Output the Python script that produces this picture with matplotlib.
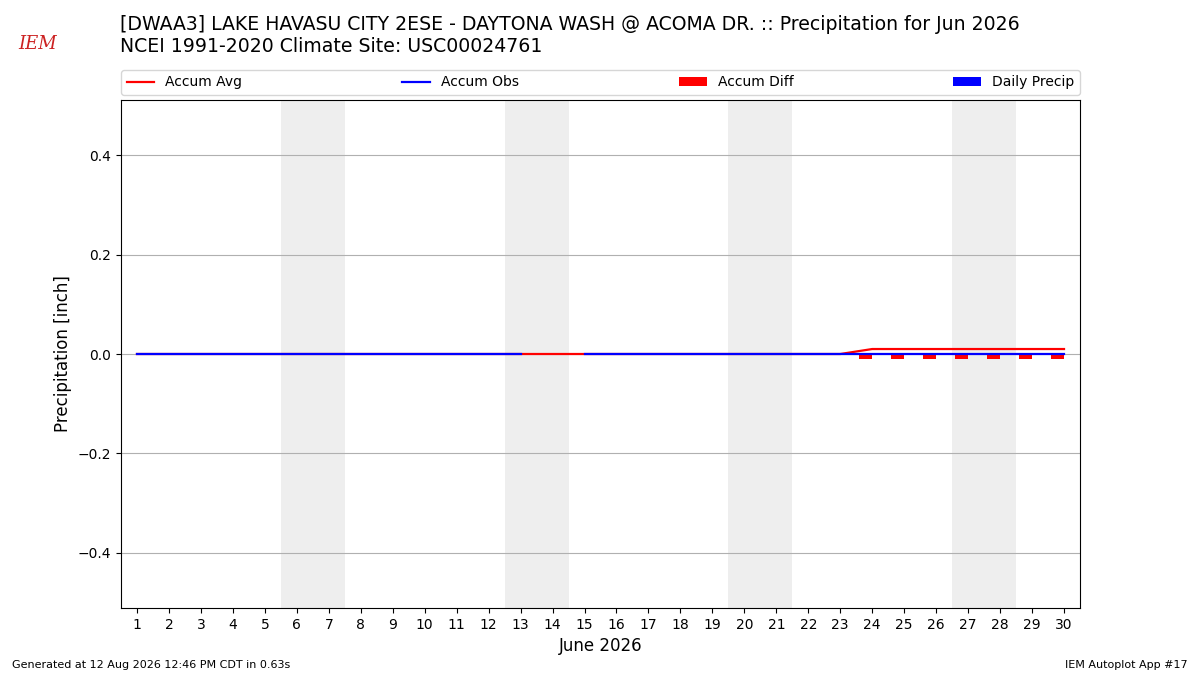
import numpy as np
import matplotlib
matplotlib.use("Agg")
import matplotlib.pyplot as plt

days = list(range(1, 31))
accum_avg = [0.0] * 23 + [0.01] * 7
accum_obs = [0.0] * 13 + [np.nan] + [0.0] * 16
accum_diff = [0.0] * 13 + [np.nan] + [0.0] * 9 + [-0.01] * 7
daily_precip = [0.0] * 13 + [np.nan] + [0.0] * 16
weekends = [6, 7, 13, 14, 20, 21, 27, 28]

title_lines = ["[DWAA3] LAKE HAVASU CITY 2ESE - DAYTONA WASH @ ACOMA DR. :: Precipitation for Jun 2026",
               "NCEI 1991-2020 Climate Site: USC00024761"]

fig = plt.figure(figsize=(12, 6.75), dpi=100)
ax = fig.add_axes([121 / 1200, 1 - 608 / 675, (1080 - 121) / 1200, (608 - 100) / 675])

for d in weekends:
    ax.axvspan(d - 0.5, d + 0.5, color="#eeeeee", zorder=0, lw=0)

x = np.array(days)
ax.bar(x, accum_diff, width=-0.4, align="edge", color="red", label="Accum Diff", zorder=3)
ax.bar(x, daily_precip, width=0.4, align="edge", color="blue", label="Daily Precip", zorder=3)
ax.plot(x, accum_avg, color="red", lw=1.6, label="Accum Avg", zorder=4)
ax.plot(x, accum_obs, color="blue", lw=1.6, label="Accum Obs", zorder=5)

ax.set_xlim(0.5, 30.5)
ax.set_ylim(-0.5106, 0.5106)
ax.set_xticks(days)
ax.set_yticks([-0.4, -0.2, 0.0, 0.2, 0.4])
ax.yaxis.grid(True, color="#b0b0b0", lw=0.8)
ax.set_axisbelow(True)
ax.tick_params(labelsize=10)
ax.set_xlabel("June 2026", fontsize=12)
ax.set_ylabel("Precipitation [inch]", fontsize=12)

handles, labels = ax.get_legend_handles_labels()
order = [labels.index(l) for l in ["Accum Avg", "Accum Obs", "Accum Diff", "Daily Precip"]]
ax.legend([handles[i] for i in order], [labels[i] for i in order],
          bbox_to_anchor=(0, 1.01, 1, 0.05), loc="lower left", ncol=4, mode="expand",
          borderaxespad=0, fontsize=10)

fig.text(120 / 1200, 1 - 25 / 675, title_lines[0], fontsize=13.6, va="center", ha="left")
fig.text(120 / 1200, 1 - 47 / 675, title_lines[1], fontsize=13.6, va="center", ha="left")

# Logo approximation
fig.text(38 / 1200, 1 - 44 / 675, "IEM", fontsize=13, color="#cc2222", family="DejaVu Serif",
         style="italic", ha="center", va="center")

fig.text(12 / 1200, 1 - 665 / 675, "Generated at 12 Aug 2026 12:46 PM CDT in 0.63s", fontsize=8,
         ha="left", va="center")
fig.text(1188 / 1200, 1 - 665 / 675, "IEM Autoplot App #17", fontsize=8, ha="right", va="center")

fig.savefig("out.png", dpi=100)
